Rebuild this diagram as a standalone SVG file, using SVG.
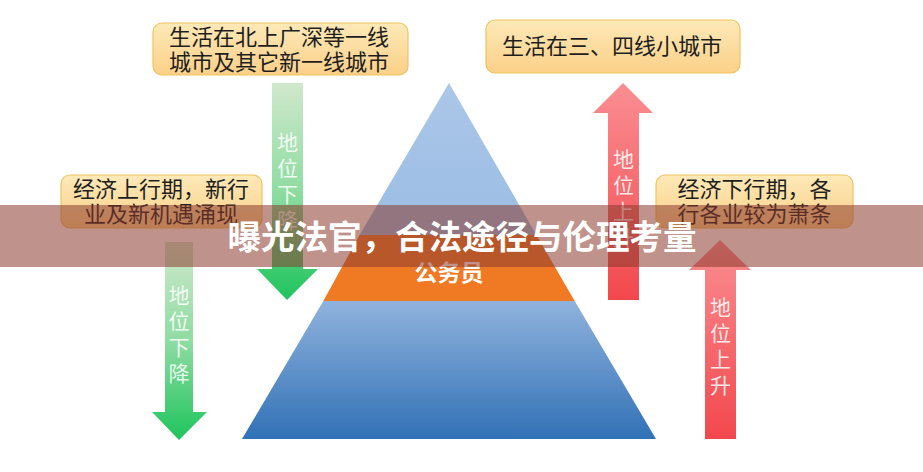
<svg xmlns="http://www.w3.org/2000/svg" width="923" height="472" viewBox="0 0 923 472">
<defs>
<linearGradient id="boxg" x1="0" y1="0" x2="0" y2="1">
<stop offset="0" stop-color="#fde9b8"/>
<stop offset="1" stop-color="#fbd088"/>
</linearGradient>
<linearGradient id="greeng" x1="0" y1="0" x2="0" y2="1">
<stop offset="0" stop-color="#cfe8cb"/>
<stop offset="0.5" stop-color="#8fdca2"/>
<stop offset="1" stop-color="#1ec45c"/>
</linearGradient>
<linearGradient id="redg" x1="0" y1="0" x2="0" y2="1">
<stop offset="0" stop-color="#fa8e92"/>
<stop offset="1" stop-color="#f2484d"/>
</linearGradient>
<linearGradient id="topg" x1="0" y1="0" x2="0" y2="1">
<stop offset="0" stop-color="#abc7e9"/>
<stop offset="1" stop-color="#9bbce3"/>
</linearGradient>
<linearGradient id="baseg" x1="0" y1="0" x2="0" y2="1">
<stop offset="0" stop-color="#90b3dd"/>
<stop offset="1" stop-color="#3171b6"/>
</linearGradient>
</defs>
<style>
.box{fill:url(#boxg);stroke:#efc35f;stroke-width:1.2}
.bt{font-family:"Noto Sans CJK SC","Noto Sans",sans-serif;font-size:22px;fill:#1e1e1e;text-anchor:middle}
.at{font-family:"Noto Sans CJK SC","Noto Sans",sans-serif;font-size:21px;fill:#ffffff;fill-opacity:0.85;text-anchor:middle;writing-mode:vertical-rl;letter-spacing:5px}
.lbl{font-family:"Noto Sans CJK SC","Noto Sans",sans-serif;font-size:23px;font-weight:bold;fill:#ffffff;text-anchor:middle}
.title{font-family:"Noto Sans CJK SC","Noto Sans",sans-serif;font-size:33.5px;font-weight:bold;fill:#ffffff;text-anchor:middle}
</style>
<rect width="923" height="472" fill="#ffffff"/>

<g id="pyramid">
<polygon points="449,83 359.6,235 536.4,235" fill="url(#topg)"/>
<polygon points="359.6,235 536.4,235 574.7,301 323.3,301" fill="#f07a24"/>
<polygon points="323.3,301 574.7,301 656,439 242,439" fill="url(#baseg)"/>
<text class="lbl" x="449" y="281">公务员</text>
</g>

<g id="connectors">
<g id="arrow-down-1">
<path d="M272,83 H303 V269 H318 L287,300 L257,269 H272 Z" fill="url(#greeng)"/>
<text class="at" x="287.5" y="184">地位下降</text>
</g>
<g id="arrow-down-2">
<path d="M165,242 H193 V412 H207 L179,440 L152,412 H165 Z" fill="url(#greeng)"/>
<text class="at" x="179" y="337">地位下降</text>
</g>
<g id="arrow-up-1">
<path d="M623,83 L653,113 H639 V300 H608 V113 H593 Z" fill="url(#redg)"/>
<text class="at" x="623.5" y="201">地位上升</text>
</g>
<g id="arrow-up-2">
<path d="M720,240 L751,270 H736 V439 H705 V270 H689 Z" fill="url(#redg)"/>
<text class="at" x="720.5" y="349">地位上升</text>
</g>
</g>

<g id="box-top-left">
<rect class="box" x="153" y="23" width="255" height="52" rx="9"/>
<text class="bt"><tspan x="279" y="45">生活在北上广深等一线</tspan><tspan x="279" y="70">城市及其它新一线城市</tspan></text>
</g>
<g id="box-top-right">
<rect class="box" x="486" y="20" width="254" height="53" rx="9"/>
<text class="bt" x="612" y="54">生活在三、四线小城市</text>
</g>
<g id="box-left">
<rect class="box" x="61" y="175" width="201" height="53" rx="9"/>
<text class="bt"><tspan x="161" y="197">经济上行期，新行</tspan><tspan x="161" y="222">业及新机遇涌现</tspan></text>
</g>
<g id="box-right">
<rect class="box" x="656" y="175" width="197" height="53" rx="9"/>
<text class="bt"><tspan x="754.5" y="197">经济下行期，各</tspan><tspan x="754.5" y="222">行各业较为萧条</tspan></text>
</g>

<g id="banner">
<rect x="0" y="205" width="923" height="62" fill="#8b3a2e" fill-opacity="0.55"/>
<text class="title" x="462" y="249">曝光法官，合法途径与伦理考量</text>
</g>
</svg>
